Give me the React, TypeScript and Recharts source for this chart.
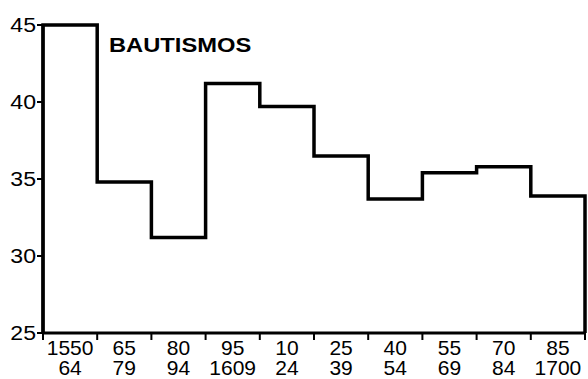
import { Line, LineChart, XAxis, YAxis } from "recharts";

const periodStarts = ["1550", "65", "80", "95", "10", "25", "40", "55", "70", "85"];
const periodEnds = ["64", "79", "94", "1609", "24", "39", "54", "69", "84", "1700"];
const bautismos = [45, 34.8, 31.2, 41.2, 39.7, 36.5, 33.7, 35.4, 35.8, 33.9];
const yTicks = [25, 30, 35, 40, 45];

const floor = yTicks[0];
const n = bautismos.length;

// step outline: rise from the floor, one step per period, drop back at the end
const stepData = [
  { x: 0, v: floor },
  ...bautismos.map((v, i) => ({ x: i, v })),
  { x: n, v: bautismos[n - 1] },
  { x: n, v: floor },
];

// ticks at period boundaries (marks) and period centres (labels)
const xTicks: number[] = [];
for (let i = 0; i <= n; i++) {
  xTicks.push(i);
  if (i < n) xTicks.push(i + 0.5);
}

const font = '"Liberation Sans", Arial, sans-serif';

function PeriodTick({ x, y, payload }: any) {
  const v = payload.value as number;
  if (Number.isInteger(v)) {
    return <line x1={x} x2={x} y1={y} y2={y + 7} stroke="#000" strokeWidth={2} />;
  }
  const i = Math.floor(v);
  return (
    <g>
      <text x={x} y={y + 22} textAnchor="middle" fontSize={21} fontFamily={font} fill="#000">
        {periodStarts[i]}
      </text>
      <text x={x} y={y + 42} textAnchor="middle" fontSize={21} fontFamily={font} fill="#000">
        {periodEnds[i]}
      </text>
    </g>
  );
}

function ValueTick({ x, y, payload }: any) {
  return (
    <text
      transform={`translate(${x + 1},${y + 7}) scale(1.1,1)`}
      textAnchor="end"
      fontSize={21}
      fontFamily={font}
      fill="#000"
    >
      {payload.value}
    </text>
  );
}

export default function App() {
  return (
    <div style={{ position: "absolute", left: 0, top: 0, width: 588, height: 379, background: "#fff" }}>
      <LineChart width={588} height={379} data={stepData} margin={{ top: 25, right: 3, left: 0, bottom: 0 }}>
        <XAxis
          type="number"
          dataKey="x"
          domain={[0, n]}
          ticks={xTicks}
          interval={0}
          tick={<PeriodTick />}
          tickLine={false}
          tickSize={0}
          tickMargin={0}
          height={46}
          axisLine={{ stroke: "#000", strokeWidth: 3 }}
        />
        <YAxis
          type="number"
          domain={[floor, yTicks[yTicks.length - 1]]}
          ticks={yTicks}
          interval={0}
          width={43}
          tickSize={6}
          tickMargin={2}
          tick={<ValueTick />}
          tickLine={{ stroke: "#000", strokeWidth: 2 }}
          axisLine={{ stroke: "#000", strokeWidth: 3 }}
        />
        <Line
          type="stepAfter"
          dataKey="v"
          stroke="#000"
          strokeWidth={3.5}
          dot={false}
          activeDot={false}
          isAnimationActive={false}
        />
      </LineChart>
      <svg width={588} height={379} style={{ position: "absolute", left: 0, top: 0, pointerEvents: "none" }}>
        <text
          transform="translate(109,52) scale(1.13,1)"
          fontSize={21}
          fontWeight="bold"
          fontFamily={font}
          fill="#000"
        >
          BAUTISMOS
        </text>
      </svg>
    </div>
  );
}
